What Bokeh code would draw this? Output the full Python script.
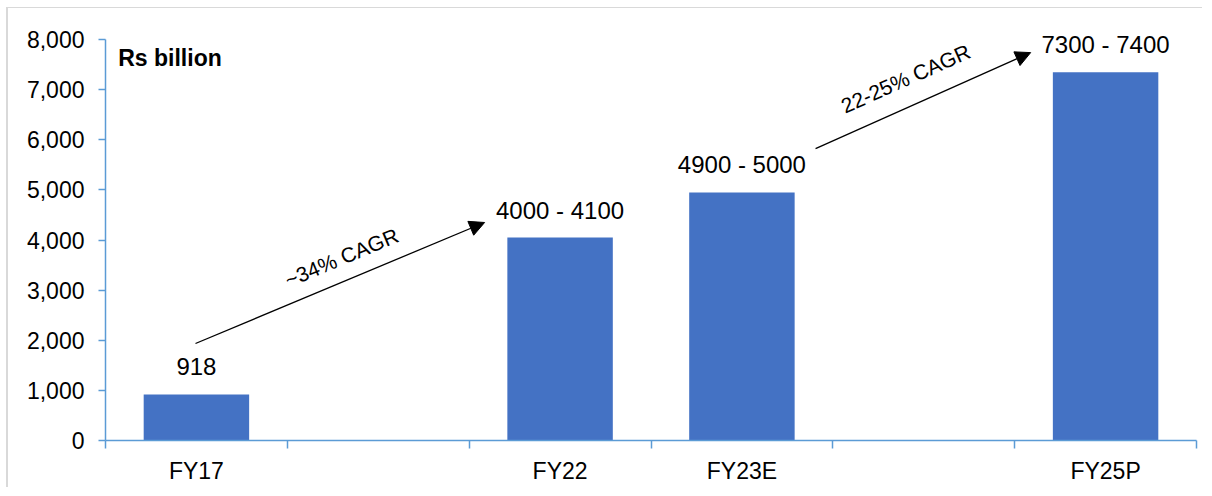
from bokeh.plotting import figure
from bokeh.models import (ColumnDataSource, FixedTicker, NumeralTickFormatter,
                          Arrow, NormalHead, Range1d, Label, LabelSet)
from bokeh.core.properties import value
from bokeh.embed import file_html
from bokeh.resources import INLINE

# ---- data ----
categories = ["FY17", "", "FY22", "FY23E", "", "FY25P"]
values = [918, None, 4050, 4950, None, 7350]
bar_labels = ["918", "", "4000 - 4100", "4900 - 5000", "", "7300 - 7400"]
y_ticks = [0, 1000, 2000, 3000, 4000, 5000, 6000, 7000, 8000]
unit_label = "Rs billion"

cagr_text = ["~34% CAGR", "22-25% CAGR"]
arrow_x_start = [0.495, 3.905]
arrow_y_start = [1935, 5825]
arrow_x_end = [2.085, 5.088]
arrow_y_end = [4350, 7740]
cagr_x = [1.298, 4.40]
cagr_y = [3651, 7222]
cagr_angle = [0.396, 0.420]

FONT = "Liberation Sans"
BAR = "#4472c4"
AXIS = "#5b9bd5"

xs = [i + 0.5 for i, v in enumerate(values) if v is not None]
vals = [v for v in values if v is not None]
labs = [bar_labels[i] for i, v in enumerate(values) if v is not None]
src = ColumnDataSource(dict(x=xs, top=vals, label=labs))

# frame extends a little above 8,000 so the top bar label is not clipped;
# the axis line itself stops at 8,000
p = figure(width=1196, height=480, output_backend="svg", toolbar_location=None,
           x_range=Range1d(0, len(categories)), y_range=Range1d(0, 8600),
           min_border_left=97, min_border_right=8, min_border_top=1,
           min_border_bottom=48)
p.styles = {"margin-left": "6px", "margin-top": "7px",
            "border-left": "2px solid #d9d9d9", "border-top": "1px solid #d9d9d9"}
p.outline_line_color = None
p.xgrid.grid_line_color = None
p.ygrid.grid_line_color = None
p.background_fill_color = "white"
p.border_fill_color = "white"

p.vbar(x="x", top="top", width=0.58, bottom=0, source=src,
       fill_color=BAR, line_color=None)

p.add_layout(LabelSet(x="x", y="top", text="label", source=src,
                      text_align="center", text_baseline="alphabetic",
                      y_offset=19, text_font=value(FONT),
                      text_font_size=value("24px"),
                      text_color=value("black")))

# x axis
xa = p.xaxis[0]
xa.ticker = FixedTicker(ticks=[i + 0.5 for i in range(len(categories))],
                        minor_ticks=list(range(len(categories) + 1)))
xa.major_label_overrides = {i + 0.5: c for i, c in enumerate(categories)}
xa.major_tick_out = 0
xa.major_tick_in = 0
xa.minor_tick_out = 8
xa.minor_tick_in = 0
xa.minor_tick_line_color = AXIS
xa.minor_tick_line_width = 1.5
xa.axis_line_color = AXIS
xa.axis_line_width = 1.5
xa.major_label_standoff = 9
xa.major_label_text_font = FONT
xa.major_label_text_font_size = "23px"
xa.major_label_text_color = "black"

# y axis
ya = p.yaxis[0]
ya.ticker = FixedTicker(ticks=y_ticks)
ya.bounds = (y_ticks[0], y_ticks[-1])
ya.formatter = NumeralTickFormatter(format="0,0")
ya.major_tick_out = 7
ya.major_tick_in = 0
ya.minor_tick_line_color = None
ya.major_tick_line_color = AXIS
ya.major_tick_line_width = 1.5
ya.axis_line_color = AXIS
ya.axis_line_width = 1.5
ya.major_label_standoff = 14
ya.major_label_text_font = FONT
ya.major_label_text_font_size = "23px"
ya.major_label_text_color = "black"

# unit label
p.add_layout(Label(x=0.07, y=7640, text=unit_label, text_align="left",
                   text_baseline="middle", text_font=FONT,
                   text_font_size="23px", text_font_style="bold",
                   text_color="black"))

# CAGR arrows
for i in range(len(cagr_text)):
    p.add_layout(Arrow(end=NormalHead(size=15, fill_color="black", line_color="black"),
                       x_start=arrow_x_start[i], y_start=arrow_y_start[i],
                       x_end=arrow_x_end[i], y_end=arrow_y_end[i],
                       line_color="black", line_width=1.3))
    p.add_layout(Label(x=cagr_x[i], y=cagr_y[i], text=cagr_text[i],
                       angle=cagr_angle[i], text_align="center",
                       text_baseline="middle", text_font=FONT,
                       text_font_size="21px", text_color="black"))

open("out.html", "w").write(file_html(p, INLINE))
